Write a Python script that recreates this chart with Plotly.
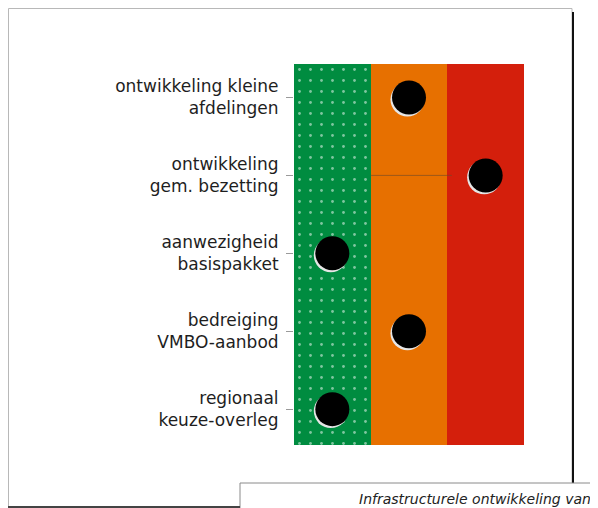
import plotly.graph_objects as go

# data
labels = [
    "ontwikkeling kleine<br>afdelingen",
    "ontwikkeling<br>gem. bezetting",
    "aanwezigheid<br>basispakket",
    "bedreiging<br>VMBO-aanbod",
    "regionaal<br>keuze-overleg",
]
zones = [1, 2, 3]                 # groen / oranje / rood
zone_colors = ["#008c40", "#e77000", "#d41f0c"]
scores = [2, 3, 1, 2, 1]          # zone per onderwerp
caption = "Infrastructurele ontwikkeling van"

# the page body has an 8px margin, so work in screen px and shift
OFF = 8
W, H = 598 - OFF, 508 - OFF
L, R, T, B = 294 - OFF, 524 - OFF, 64 - OFF, 445 - OFF

def px(x):
    return (x - OFF - L) / (R - L)

def py(y):
    return (B - (y - OFF)) / (B - T)

rows = list(range(len(labels)))
y_range = [4.46, -0.43]

fig = go.Figure()

# background zones
fig.add_trace(go.Bar(
    x=zones, y=[y_range[0] - y_range[1]] * 3, base=y_range[1], width=1,
    marker=dict(color=zone_colors, line=dict(width=0),
                pattern=dict(shape=[".", "", ""], fgcolor="#3c9f62",
                             size=11, solidity=0.05)),
    hoverinfo="skip"))

# light rim under the dots (slightly shifted down-left)
fig.add_trace(go.Scatter(
    x=scores, y=rows, mode="markers", xaxis="x2", yaxis="y2",
    marker=dict(size=34, color="#e6e6e6"), hoverinfo="skip"))
fig.add_trace(go.Scatter(
    x=scores, y=rows, mode="markers", xaxis="x3", yaxis="y3",
    marker=dict(size=34, color="#000000")))

fig.update_layout(
    width=W, height=H, showlegend=False, bargap=0,
    paper_bgcolor="white", plot_bgcolor="white",
    margin=dict(l=L, r=W - R, t=T, b=H - B, autoexpand=False),
    xaxis=dict(range=[0.5, 3.5], visible=False, fixedrange=True),
    yaxis=dict(range=y_range, tickvals=rows, ticktext=labels,
               ticks="outside", ticklen=7, tickcolor="#9a9a9a",
               showgrid=False, zeroline=False, showline=False,
               ticklabelstandoff=4,
               tickfont=dict(family="DejaVu Sans", size=17, color="#1e1e1e")),
    xaxis2=dict(range=[0.52, 3.52], overlaying="x", visible=False),
    yaxis2=dict(range=[y_range[0] - 0.025, y_range[1] - 0.025],
                overlaying="y", visible=False),
    xaxis3=dict(range=[0.5, 3.5], overlaying="x", visible=False),
    yaxis3=dict(range=y_range, overlaying="y", visible=False),
)

# thin guide line on the second row, as in the original
fig.add_shape(type="line", xref="x", yref="y", x0=1.5, x1=2.56, y0=rows[1], y1=rows[1],
              line=dict(color="#6e4a2a", width=1), opacity=0.6)

# frame around the figure
fig.add_shape(type="path", xref="paper", yref="paper",
              path=f"M {px(8.5)},{py(507)} L {px(8.5)},{py(8.5)} L {px(572)},{py(8.5)} L {px(572)},{py(483)}",
              line=dict(color="#b8b8b8", width=1))
fig.add_shape(type="line", xref="paper", yref="paper",
              x0=px(573), x1=px(573), y0=py(12), y1=py(483),
              line=dict(color="#111111", width=2))
fig.add_shape(type="path", xref="paper", yref="paper",
              path=f"M {px(240)},{py(508)} L {px(240)},{py(483)} L {px(598)},{py(483)}",
              line=dict(color="#8a8a8a", width=1))
fig.add_shape(type="line", xref="paper", yref="paper",
              x0=px(8), x1=px(240), y0=py(507), y1=py(507),
              line=dict(color="#444444", width=2))

fig.add_annotation(text="<i>" + caption + "</i>", xref="paper", yref="paper",
                   x=px(593), y=py(499), xanchor="right", yanchor="middle",
                   showarrow=False,
                   font=dict(family="DejaVu Sans", size=14, color="#222222"))

fig.write_html("out.html")
